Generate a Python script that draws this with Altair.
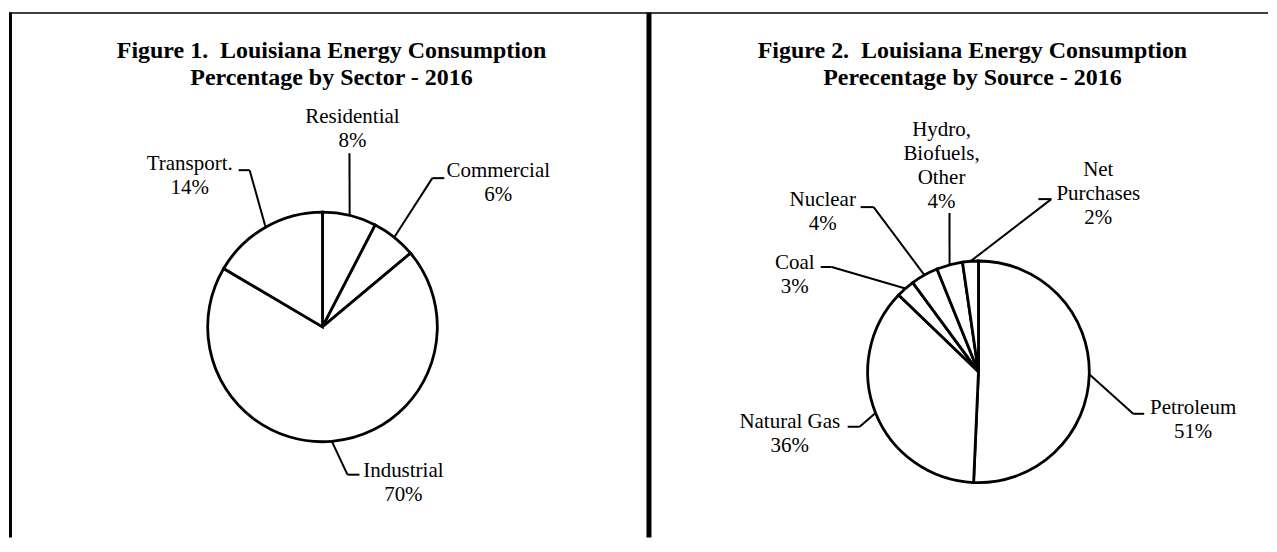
import altair as alt
import pandas as pd

# ---------------- data ----------------
sector_names = [["Residential"], ["Commercial"], ["Industrial"], ["Transport."]]
sector_pct = ["8%", "6%", "70%", "14%"]
sector_share = [7.6, 6.3, 69.6, 16.5]

source_names = [["Petroleum"], ["Natural Gas"], ["Coal"], ["Nuclear"],
                ["Hydro,", "Biofuels,", "Other"], ["Net", "Purchases"]]
source_pct = ["51%", "36%", "3%", "4%", "4%", "2%"]
source_share = [50.7, 36.5, 2.7, 4.0, 3.8, 2.3]

title1 = ["Figure 1.\u00a0 Louisiana Energy Consumption", "Percentage by Sector - 2016"]
title2 = ["Figure 2.\u00a0 Louisiana Energy Consumption", "Perecentage by Source - 2016"]

# ---------------- layout (page coordinates) ----------------
W, H = 1261, 530
X0, Y0 = 8, 8
LH = 24
FONT = "Liberation Serif"

# label: (label centre x, first line y, elbow x, elbow y, tick end x, tick end y)
layout1 = dict(cx=322, cy=327, r=115, tx=331, ty=[51, 78],
               labels=[(352, 117, 349, 153, 349, 153),
                       (498, 171, 432, 178, 444, 178),
                       (403, 471, 347, 475, 359, 475),
                       (189, 164, 249, 170, 238, 170)])
layout2 = dict(cx=979, cy=372, r=111, tx=973, ty=[51, 78],
               labels=[(1194, 408, 1134, 414, 1145, 414),
                       (790, 422, 860, 427, 848, 427),
                       (795, 263, 832, 267, 821, 267),
                       (823, 200, 874, 207, 861, 207),
                       (942, 130, 950, 213, 950, 213),
                       (1099, 170, 1052, 199, 1039, 199)])

XS = alt.Scale(domain=[X0, X0 + W], nice=False, zero=False)
YS = alt.Scale(domain=[Y0, Y0 + H], reverse=True, nice=False, zero=False)


def X(f):
    return alt.X(f, scale=XS, axis=None)


def Y(f):
    return alt.Y(f, scale=YS, axis=None)


def pie_layers(names, pct, share, lay, title):
    slices = pd.DataFrame({
        "idx": list(range(len(share))),
        "value": share,
        "bx": [l[2] for l in lay["labels"]],
        "by": [l[3] for l in lay["labels"]],
        "kx": [l[4] for l in lay["labels"]],
        "ky": [l[5] for l in lay["labels"]],
    })
    cx, cy, r = lay["cx"], lay["cy"], lay["r"]

    arc = alt.Chart(slices).mark_arc(
        radius=r, fill="white", stroke="black", strokeWidth=2.8
    ).encode(
        theta=alt.Theta("value:Q", stack=True),
        order=alt.Order("idx:Q"),
        x=alt.XDatum(cx, type="quantitative", scale=XS, axis=None),
        y=alt.YDatum(cy, type="quantitative", scale=YS, axis=None),
    )

    edges = alt.Chart(slices).transform_joinaggregate(
        total="sum(value)"
    ).transform_window(
        cum="sum(value)", sort=[alt.SortField("idx")]
    ).transform_calculate(
        mid="(datum.cum - datum.value/2) / datum.total * 2 * PI",
        ex=f"{cx} + {r} * sin(datum.mid)",
        ey=f"{cy} - {r} * cos(datum.mid)",
    )
    lead1 = edges.mark_rule(color="black", strokeWidth=2).encode(
        x=X("ex:Q"), y=Y("ey:Q"), x2="bx:Q", y2="by:Q")
    lead2 = alt.Chart(slices).mark_rule(color="black", strokeWidth=2).encode(
        x=X("bx:Q"), y=Y("by:Q"), x2="kx:Q", y2="ky:Q")

    rows = []
    for nm, pc, l in zip(names, pct, lay["labels"]):
        for i, t in enumerate(nm + [pc]):
            rows.append({"t": t, "x": l[0], "y": l[1] + i * LH})
    txt = alt.Chart(pd.DataFrame(rows)).mark_text(
        font=FONT, fontSize=21, color="black", align="center", baseline="middle"
    ).encode(x=X("x:Q"), y=Y("y:Q"), text="t:N")

    trows = [{"t": t, "x": lay["tx"], "y": y} for t, y in zip(title, lay["ty"])]
    ttl = alt.Chart(pd.DataFrame(trows)).mark_text(
        font=FONT, fontSize=24, fontWeight="bold", color="black",
        align="center", baseline="middle"
    ).encode(x=X("x:Q"), y=Y("y:Q"), text="t:N")
    return [arc, lead1, lead2, txt, ttl]


# frame lines
frame = pd.DataFrame({
    "x": [X0, 9.5, 649], "y": [12.5, 12, 12],
    "x2": [X0 + W, 9.5, 649], "y2": [12.5, Y0 + H, Y0 + H],
    "w": [1.5, 3, 5],
})
frame_layer = alt.Chart(frame).mark_rule(color="black").encode(
    x=X("x:Q"), y=Y("y:Q"), x2="x2:Q", y2="y2:Q",
    strokeWidth=alt.StrokeWidth("w:Q", scale=None, legend=None),
)

layers = [frame_layer] + pie_layers(sector_names, sector_pct, sector_share, layout1, title1) \
    + pie_layers(source_names, source_pct, source_share, layout2, title2)

chart = alt.layer(*layers).resolve_scale(theta="independent").properties(
    width=W, height=H, padding=0, background="white"
).configure_view(stroke=None)

chart.save("out.html", embed_options={"renderer": "svg", "actions": False})
